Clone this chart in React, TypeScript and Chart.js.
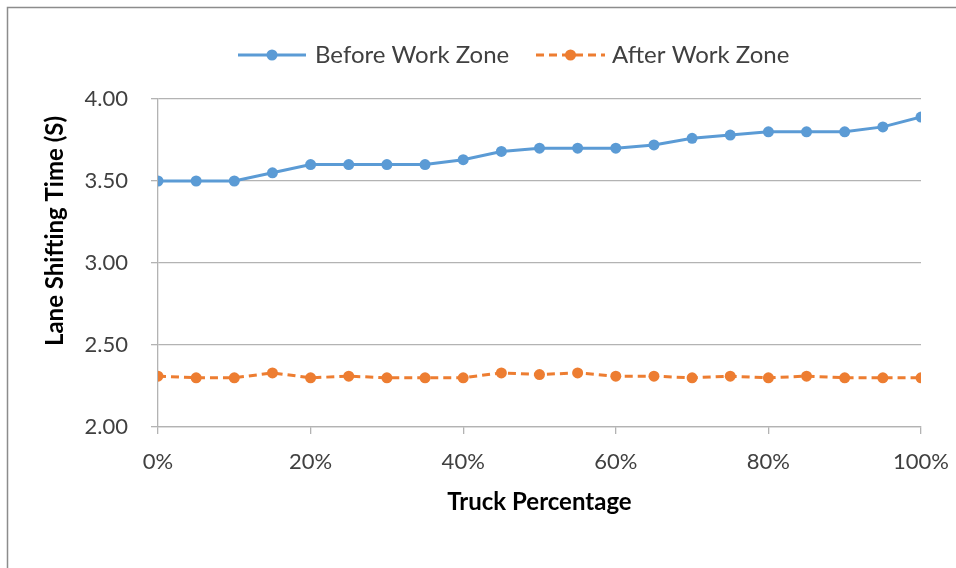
import React, { useEffect, useRef } from "react";
import { Chart, registerables } from "chart.js";

Chart.register(...registerables);

const truckPct = [0, 5, 10, 15, 20, 25, 30, 35, 40, 45, 50, 55, 60, 65, 70, 75, 80, 85, 90, 95, 100];
const beforeWorkZone = [3.5, 3.5, 3.5, 3.55, 3.6, 3.6, 3.6, 3.6, 3.63, 3.68, 3.7, 3.7, 3.7, 3.72, 3.76, 3.78, 3.8, 3.8, 3.8, 3.83, 3.89];
const afterWorkZone = [2.31, 2.3, 2.3, 2.33, 2.3, 2.31, 2.3, 2.3, 2.3, 2.33, 2.32, 2.33, 2.31, 2.31, 2.3, 2.31, 2.3, 2.31, 2.3, 2.3, 2.3];
const seriesNames = ["Before Work Zone", "After Work Zone"];
const xTitle = "Truck Percentage";
const yTitle = "Lane Shifting Time (S)";

const FONT = "Lato, 'Open Sans', sans-serif";
const BLUE = "#5B9BD5";
const ORANGE = "#ED7D31";
const GRID = "#b3b3b3";
const TEXT = "#404040";
const DASH = [8, 5];

const decorPlugin = {
  id: "decor",
  afterDraw(chart: any) {
    const ctx = chart.ctx;
    const area = chart.chartArea;
    ctx.save();
    // outer frame (left and top)
    ctx.strokeStyle = "#8c8c8c";
    ctx.lineWidth = 1.5;
    ctx.beginPath();
    ctx.moveTo(7.5, chart.height);
    ctx.lineTo(7.5, 7.5);
    ctx.lineTo(chart.width, 7.5);
    ctx.stroke();

    // legend
    const ly = 55;
    const items = [
      { text: seriesNames[0], color: BLUE, dash: [] as number[], x0: 238, x1: 306, tx: 315 },
      { text: seriesNames[1], color: ORANGE, dash: DASH, x0: 536, x1: 605, tx: 612 },
    ];
    for (const it of items) {
      ctx.strokeStyle = it.color;
      ctx.lineWidth = 3;
      ctx.setLineDash(it.dash);
      ctx.beginPath();
      ctx.moveTo(it.x0, ly);
      ctx.lineTo(it.x1, ly);
      ctx.stroke();
      ctx.setLineDash([]);
      ctx.fillStyle = it.color;
      ctx.beginPath();
      ctx.arc((it.x0 + it.x1) / 2, ly, 5.5, 0, Math.PI * 2);
      ctx.fill();
      ctx.fillStyle = TEXT;
      ctx.font = `24px ${FONT}`;
      ctx.textAlign = "left";
      ctx.textBaseline = "middle";
      ctx.fillText(it.text, it.tx, ly);
    }

    // axis titles
    ctx.fillStyle = "#000";
    ctx.font = `bold 24px ${FONT}`;
    ctx.textAlign = "center";
    ctx.textBaseline = "middle";
    ctx.fillText(xTitle, (area.left + area.right) / 2, 502);
    ctx.translate(55, 231);
    ctx.rotate(-Math.PI / 2);
    ctx.fillText(yTitle, 0, 0);
    ctx.restore();
  },
};

export default function App() {
  const ref = useRef<HTMLCanvasElement>(null);
  useEffect(() => {
    document.body.style.margin = "0";
    const canvas = ref.current!;
    const chart = new Chart(canvas, {
      type: "line",
      data: {
        datasets: [
          {
            label: seriesNames[0],
            data: truckPct.map((x, i) => ({ x, y: beforeWorkZone[i] })),
            borderColor: BLUE,
            backgroundColor: BLUE,
            borderWidth: 3,
            pointRadius: 5.5,
            pointBorderWidth: 0,
            pointBackgroundColor: BLUE,
            tension: 0,
          },
          {
            label: seriesNames[1],
            data: truckPct.map((x, i) => ({ x, y: afterWorkZone[i] })),
            borderColor: ORANGE,
            backgroundColor: ORANGE,
            borderWidth: 3,
            borderDash: DASH,
            pointRadius: 5.5,
            pointBorderWidth: 0,
            pointBackgroundColor: ORANGE,
            tension: 0,
          },
        ],
      },
      options: {
        responsive: false,
        animation: false,
        layout: { padding: { left: 0, right: 35, top: 99, bottom: 0 } },
        plugins: { legend: { display: false }, tooltip: { enabled: false } },
        scales: {
          x: {
            type: "linear",
            min: 0,
            max: 100,
            afterFit(scale: any) {
              scale.height = 568 - 427;
              scale.paddingRight = 0;
            },
            ticks: {
              stepSize: 20,
              callback: (v: any) => `${v}%`,
              color: TEXT,
              font: { family: FONT, size: 22 },
              padding: 15,
              maxRotation: 0,
            },
            grid: {
              drawOnChartArea: false,
              drawTicks: true,
              tickLength: 7,
              color: GRID,
              lineWidth: 1.3,
            },
            border: { display: true, color: GRID, width: 1.3 },
          },
          y: {
            min: 2,
            max: 4,
            afterFit(scale: any) {
              scale.width = 158;
            },
            ticks: {
              stepSize: 0.5,
              callback: (v: any) => Number(v).toFixed(2),
              color: TEXT,
              font: { family: FONT, size: 22 },
              padding: 23,
            },
            grid: {
              color: GRID,
              lineWidth: 1.3,
              tickLength: 7,
            },
            border: { display: true, color: GRID, width: 1.3 },
          },
        },
      },
      plugins: [decorPlugin],
    });
    return () => chart.destroy();
  }, []);
  return (
    <div style={{ position: "absolute", left: 0, top: 0, width: 956, height: 568, background: "#fff" }}>
      <canvas ref={ref} width={956} height={568} style={{ width: 956, height: 568, display: "block" }} />
    </div>
  );
}
